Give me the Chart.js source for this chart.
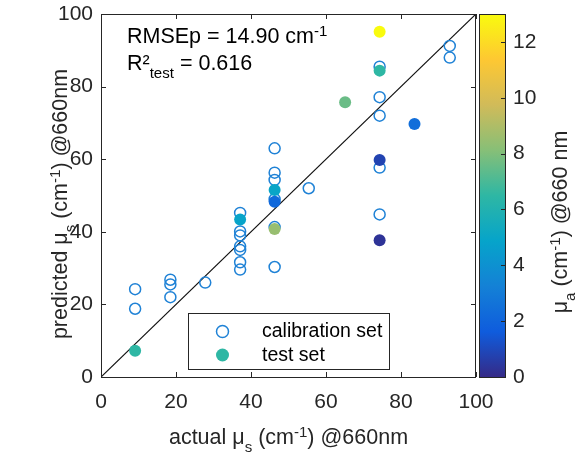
<!DOCTYPE html>
<html>
<head>
<meta charset="utf-8">
<script src="https://cdn.jsdelivr.net/npm/chart.js@4.4.0/dist/chart.umd.min.js"></script>
<style>
  html, body { margin: 0; padding: 0; background: #fff; }
  #wrap { width: 579px; height: 458px; }
</style>
</head>
<body>
<div id="wrap"><canvas id="chart" width="579" height="458"></canvas></div>
<script>
// calibration samples: actual vs predicted mu_s (cm^-1) at 660 nm
const calActual    = [9.1, 9.1, 18.5, 18.5, 18.5, 27.8, 37.1, 37.1, 37.1, 37.1, 37.1, 37.1, 37.1, 46.3, 46.3, 46.3, 46.3, 46.3, 46.3, 55.4, 74.3, 74.3, 74.3, 74.3, 74.3, 93.0, 93.0];
const calPredicted = [24.2, 18.8, 26.8, 25.5, 22.0, 26.0, 45.2, 40.1, 39.0, 36.0, 35.0, 31.6, 29.6, 63.0, 56.3, 54.3, 49.0, 41.3, 30.3, 52.0, 85.5, 77.1, 72.0, 57.7, 44.8, 91.2, 88.0];

// test samples, coloured by their absorption mu_a (cm^-1)
const testActual    = [9.1, 37.1, 46.3, 46.3, 46.3, 65.1, 74.3, 74.3, 74.3, 74.3, 83.6];
const testPredicted = [7.2, 43.4, 51.5, 48.3, 40.8, 75.7, 95.1, 84.4, 59.8, 37.7, 69.7];
const testMuA       = [6.5, 4.9, 5.0, 2.2, 8.5, 7.6, 13.0, 6.5, 0.8, 0.3, 2.4];

const axisTicks = [0, 20, 40, 60, 80, 100];
const muATicks = [0, 2, 4, 6, 8, 10, 12];
const muAMax = 13;
const identityLine = [0, 100];

// parula-like colormap
const parulaStops = ['#352a87', '#0f5cdd', '#1481d6', '#06a4ca', '#2eb7a4', '#87bf77', '#d1bb59', '#fec832', '#f9fb0e'];

function hexRgb(h) {
  return [parseInt(h.slice(1, 3), 16), parseInt(h.slice(3, 5), 16), parseInt(h.slice(5, 7), 16)];
}

function parula(t) {
  t = Math.max(0, Math.min(1, t));
  const n = parulaStops.length - 1;
  const i = Math.min(Math.floor(t * n), n - 1);
  const f = t * n - i;
  const a = hexRgb(parulaStops[i]), b = hexRgb(parulaStops[i + 1]);
  const c = a.map((v, k) => Math.round(v + (b[k] - v) * f));
  return 'rgb(' + c.join(',') + ')';
}

const FONT = '"Liberation Sans", Arial, Helvetica, sans-serif';
const AXIS_COLOR = '#262626';
const TITLE_SIZE = 21.5;

// text with sub/superscript pieces
function richWidth(ctx, parts, size) {
  let w = 0;
  for (const [txt, mode] of parts) {
    ctx.font = (mode ? size * 0.7 : size) + 'px ' + FONT;
    w += ctx.measureText(txt).width;
  }
  return w;
}

function drawRich(ctx, parts, x, y, size, align) {
  let cx = x;
  if (align === 'center') cx = x - richWidth(ctx, parts, size) / 2;
  ctx.textBaseline = 'alphabetic';
  ctx.textAlign = 'left';
  for (const [txt, mode] of parts) {
    let dy = 0;
    if (mode === 'sub') dy = size * 0.35;
    if (mode === 'sup') dy = -size * 0.32;
    ctx.font = (mode ? size * 0.7 : size) + 'px ' + FONT;
    ctx.fillText(txt, cx, y + dy);
    cx += ctx.measureText(txt).width;
  }
}

const fixedSize = (key, size) => (scale) => {
  scale[key] = size;
  scale.paddingTop = 0; scale.paddingBottom = 0;
  scale.paddingLeft = 0; scale.paddingRight = 0;
};

const figureDecor = {
  id: 'figureDecor',
  afterDraw(chart) {
    const { ctx, chartArea: a, scales } = chart;
    const x = scales.x, y = scales.y, cb = scales.cb;
    ctx.save();

    // axes box with inward ticks
    ctx.strokeStyle = AXIS_COLOR;
    ctx.lineWidth = 1;
    ctx.strokeRect(Math.round(a.left) + 0.5, Math.round(a.top) + 0.5, Math.round(a.right - a.left) - 1, Math.round(a.bottom - a.top));
    ctx.beginPath();
    for (const t of x.ticks) {
      const px = Math.round(x.getPixelForValue(t.value)) + 0.5;
      ctx.moveTo(px, a.bottom); ctx.lineTo(px, a.bottom - 5);
      ctx.moveTo(px, a.top); ctx.lineTo(px, a.top + 5);
    }
    for (const t of y.ticks) {
      const py = Math.round(y.getPixelForValue(t.value)) + 0.5;
      ctx.moveTo(a.left, py); ctx.lineTo(a.left + 5, py);
      ctx.moveTo(a.right, py); ctx.lineTo(a.right - 5, py);
    }
    ctx.stroke();

    // colorbar
    const cbL = a.right + 3, cbR = a.right + 29;
    const y0 = cb.getPixelForValue(0), y1 = cb.getPixelForValue(muAMax);
    const grad = ctx.createLinearGradient(0, y0, 0, y1);
    parulaStops.forEach((c, i) => grad.addColorStop(i / (parulaStops.length - 1), c));
    ctx.fillStyle = grad;
    ctx.fillRect(cbL, y1, cbR - cbL, y0 - y1);
    ctx.strokeStyle = AXIS_COLOR;
    ctx.strokeRect(Math.round(cbL) + 0.5, Math.round(y1) + 0.5, Math.round(cbR - cbL), Math.round(y0 - y1));
    ctx.beginPath();
    for (const t of cb.ticks) {
      const py = Math.round(cb.getPixelForValue(t.value)) + 0.5;
      ctx.moveTo(cbR, py); ctx.lineTo(cbR - 4, py);
    }
    ctx.stroke();

    // axis titles
    ctx.fillStyle = AXIS_COLOR;
    drawRich(ctx, [['actual \u03bc'], ['s', 'sub'], [' (cm'], ['-1', 'sup'], [') @660nm']],
      (a.left + a.right) / 2, 444, TITLE_SIZE, 'center');

    ctx.save();
    ctx.translate(67, 204);
    ctx.rotate(-Math.PI / 2);
    drawRich(ctx, [['predicted \u03bc'], ['s', 'sub'], [' (cm'], ['-1', 'sup'], [') @660nm']], 0, 0, TITLE_SIZE, 'center');
    ctx.restore();

    ctx.save();
    ctx.translate(567, 222);
    ctx.rotate(-Math.PI / 2);
    drawRich(ctx, [['\u03bc'], ['a', 'sub'], [' (cm'], ['-1', 'sup'], [') @660 nm']], 0, 0, TITLE_SIZE, 'center');
    ctx.restore();

    // fit statistics
    ctx.fillStyle = '#000';
    drawRich(ctx, [['RMSEp = 14.90 cm'], ['-1', 'sup']], 127, 43, TITLE_SIZE, 'left');
    drawRich(ctx, [['R\u00b2'], ['test', 'sub'], [' = 0.616']], 127, 70, TITLE_SIZE, 'left');

    // legend
    const lx = 188, ly = 313, lw = 201, lh = 56;
    ctx.fillStyle = '#fff';
    ctx.fillRect(lx, ly, lw, lh);
    ctx.lineWidth = 1;
    ctx.strokeStyle = '#262626';
    ctx.strokeRect(lx + 0.5, ly + 0.5, lw, lh);
    const cal = chart.data.datasets[1], test = chart.data.datasets[0];
    ctx.lineWidth = 1.5;
    ctx.strokeStyle = cal.pointBorderColor;
    ctx.beginPath(); ctx.arc(222.5, 331.5, 6, 0, Math.PI * 2); ctx.stroke();
    ctx.fillStyle = parula(testMuA[0] / muAMax);
    ctx.beginPath(); ctx.arc(222.5, 355, 6.5, 0, Math.PI * 2); ctx.fill();
    ctx.fillStyle = '#000';
    ctx.font = '19.5px ' + FONT;
    ctx.textAlign = 'left';
    ctx.textBaseline = 'alphabetic';
    ctx.fillText(cal.label, 262, 337);
    ctx.fillText(test.label, 262, 361);

    ctx.restore();
  }
};

const tickFont = { family: FONT, size: 21 };

new Chart(document.getElementById('chart'), {
  type: 'scatter',
  data: {
    datasets: [
      {
        label: 'test set',
        data: testActual.map((v, i) => ({ x: v, y: testPredicted[i] })),
        pointRadius: 6,
        pointBorderWidth: 0,
        pointBackgroundColor: testMuA.map(m => parula(m / muAMax)),
        pointBorderColor: 'rgba(0,0,0,0)',
        order: 0
      },
      {
        label: 'calibration set',
        data: calActual.map((v, i) => ({ x: v, y: calPredicted[i] })),
        pointRadius: 5.5,
        pointBorderWidth: 1.5,
        pointBackgroundColor: 'rgba(0,0,0,0)',
        pointBorderColor: '#1f82d6',
        order: 1
      },
      {
        label: 'y = x',
        data: identityLine.map(v => ({ x: v, y: v })),
        showLine: true,
        borderColor: '#111',
        borderWidth: 1.2,
        pointRadius: 0,
        order: 2
      }
    ]
  },
  options: {
    responsive: false,
    animation: false,
    events: [],
    layout: { padding: { top: 14, left: 0, right: 0, bottom: 0 } },
    plugins: { legend: { display: false }, tooltip: { enabled: false } },
    scales: {
      x: {
        type: 'linear', position: 'bottom', min: 0, max: 100,
        afterBuildTicks: s => { s.ticks = axisTicks.map(v => ({ value: v })); },
        afterFit: fixedSize('height', 81),
        grid: { display: false, drawTicks: false },
        border: { display: false },
        ticks: { font: tickFont, color: AXIS_COLOR, padding: 13, maxRotation: 0 }
      },
      y: {
        type: 'linear', position: 'left', min: 0, max: 100,
        afterBuildTicks: s => { s.ticks = axisTicks.map(v => ({ value: v })); },
        afterFit: fixedSize('width', 101),
        grid: { display: false, drawTicks: false },
        border: { display: false },
        ticks: { font: tickFont, color: AXIS_COLOR, padding: 8 }
      },
      cb: {
        axis: 'y', type: 'linear', position: 'right', min: 0, max: muAMax,
        afterBuildTicks: s => { s.ticks = muATicks.map(v => ({ value: v })); },
        afterFit: fixedSize('width', 103),
        grid: { display: false, drawTicks: false },
        border: { display: false },
        ticks: { font: tickFont, color: AXIS_COLOR, padding: 37 }
      }
    }
  },
  plugins: [figureDecor]
});
</script>
</body>
</html>
